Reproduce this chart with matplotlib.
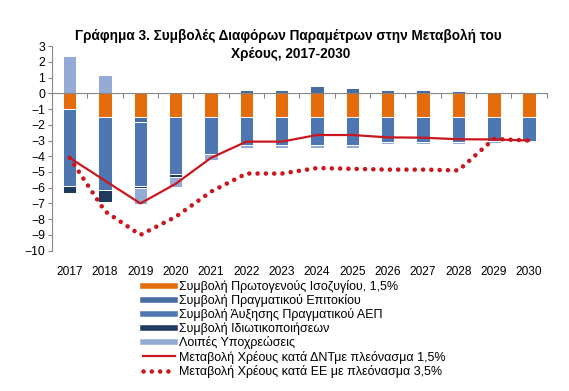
import numpy as np
import matplotlib.pyplot as plt
from matplotlib.lines import Line2D

plt.rcParams['font.family'] = ['Liberation Sans', 'DejaVu Sans']

# δεδομένα (εκτίμηση από το γράφημα)
years = ['2017', '2018', '2019', '2020', '2021', '2022', '2023',
         '2024', '2025', '2026', '2027', '2028', '2029', '2030']
primary = [-1.0, -1.5, -1.5, -1.5, -1.5, -1.5, -1.5, -1.5, -1.5, -1.5, -1.5, -1.5, -1.5, -1.5]
rate = [0.0, 0.0, -0.3, 0.0, 0.0, 0.2, 0.2, 0.45, 0.35, 0.22, 0.22, 0.15, 0.0, 0.0]
growth = [-4.9, -4.65, -4.1, -3.65, -2.35, -1.8, -1.8, -1.8, -1.8, -1.6, -1.6, -1.6, -1.5, -1.5]
privat = [-0.45, -0.75, -0.1, -0.15, 0.0, 0.0, 0.0, 0.0, 0.0, 0.0, 0.0, 0.0, 0.0, 0.0]
other = [2.4, 1.15, -1.05, -0.65, -0.4, -0.15, -0.15, -0.2, -0.15, -0.15, -0.15, -0.15, -0.15, -0.1]
debt_dnt = [-4.1, -5.55, -7.0, -5.75, -4.1, -3.07, -3.07, -2.65, -2.65, -2.8, -2.82, -2.92, -2.93, -3.0]
debt_ee = [-4.1, -7.5, -9.0, -7.85, -6.25, -5.1, -5.1, -4.75, -4.8, -4.85, -4.85, -4.9, -2.9, -3.0]

series = [primary, rate, growth, privat, other]
colors = ['#E46C0A', '#476C9F', '#4E76B1', '#1F3A5F', '#93ABD5']
labels = ['Συμβολή Πρωτογενούς Ισοζυγίου, 1,5%',
          'Συμβολή Πραγματικού Επιτοκίου',
          'Συμβολή Άυξησης Πραγματικού ΑΕΠ',
          'Συμβολή Ιδιωτικοποιήσεων',
          'Λοιπές Υποχρεώσεις',
          'Μεταβολή Χρέους κατά ΔΝΤμε πλεόνασμα 1,5%',
          'Μεταβολή Χρέους κατά ΕΕ με πλεόνασμα 3,5%']
red = '#C9171E'

fig = plt.figure(figsize=(5.69, 3.91), dpi=100)
ax = fig.add_axes([0.0914, 0.359, 0.8696, 0.523])

x = np.arange(len(years))
pos = np.zeros(len(years))
neg = np.zeros(len(years))
for vals, c in zip(series, colors):
    v = np.array(vals)
    base = np.where(v >= 0, pos, neg)
    ax.bar(x, v, 0.38, bottom=base, color=c, edgecolor='white', linewidth=0.7, zorder=2)
    pos = pos + np.where(v >= 0, v, 0)
    neg = neg + np.where(v < 0, v, 0)

ax.plot(x, debt_dnt, color=red, lw=1.6, zorder=3)
ax.plot(x, debt_ee, color=red, lw=3.3, linestyle=(0, (0.01, 1.8)),
        dash_capstyle='round', zorder=3)

ax.set_xlim(-0.5, len(years) - 0.5)
ax.set_ylim(-10, 3)
ax.set_yticks(range(-10, 4))
ax.tick_params(axis='y', labelsize=8.8, length=3, color='#868686', pad=2)

# άξονας x στο μηδέν με τικ ανάμεσα στις κατηγορίες
ax.spines['bottom'].set_position(('data', 0))
ax.spines['bottom'].set_color('#868686')
ax.spines['left'].set_color('#868686')
ax.spines['top'].set_visible(False)
ax.spines['right'].set_visible(False)
ax.set_xticks(np.arange(-0.5, len(years), 1.0))
ax.set_xticklabels([])
ax.tick_params(axis='x', direction='out', length=3.5, color='#868686')

sec = ax.secondary_xaxis(0)
sec.set_xticks(x)
sec.set_xticklabels(years)
sec.tick_params(length=0, labelsize=8.6, pad=11)
sec.spines['bottom'].set_visible(False)

fig.text(0.507, 0.908, 'Γράφημα 3. Συμβολές Διαφόρων Παραμέτρων στην Μεταβολή του',
         ha='center', va='center', fontsize=9.8, fontweight='bold')
fig.text(0.51, 0.862, 'Χρέους, 2017-2030',
         ha='center', va='center', fontsize=9.8, fontweight='bold')

handles = [Line2D([], [], color=c, lw=4) for c in colors]
handles.append(Line2D([], [], color=red, lw=1.6))
handles.append(Line2D([], [], color=red, lw=3.3, linestyle=(0, (0.01, 1.8)), dash_capstyle='round'))
fig.legend(handles, labels,
           loc='upper left', bbox_to_anchor=(0.251, 0.284), frameon=False,
           fontsize=9, handlelength=2.55, handletextpad=0.35, labelspacing=0.1,
           borderpad=0, borderaxespad=0)

fig.savefig('out.png', dpi=100)
